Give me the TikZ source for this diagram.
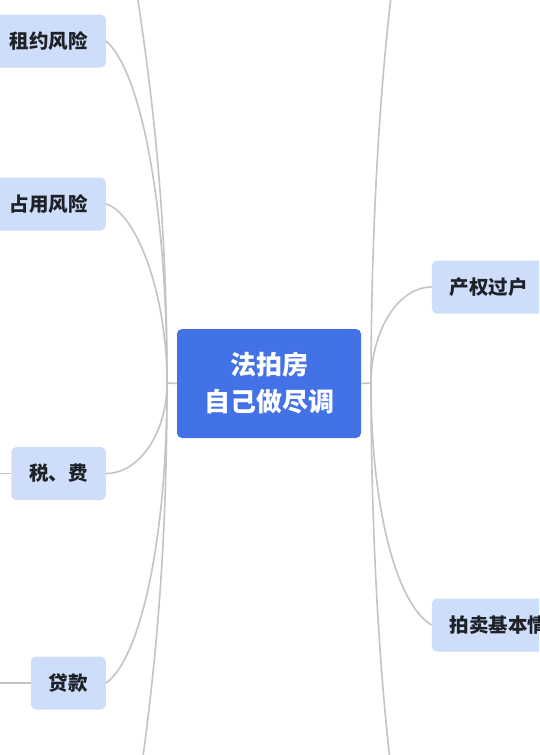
\documentclass[tikz,border=0pt]{standalone}
\usepackage{fontspec}
\newfontfamily\cjk{Noto Sans CJK SC}
\definecolor{rootblue}{HTML}{4272E6}
\definecolor{leafblue}{HTML}{CEDDF9}
\definecolor{linegray}{HTML}{C4C4C4}
\definecolor{textdark}{HTML}{1E2128}
\tikzset{
  rootbox/.style={fill=rootblue, rounded corners=5pt, minimum width=184pt, minimum height=109pt,
    text=white, font=\cjk\bfseries\fontsize{26}{37}\selectfont, align=center, inner sep=0pt},
  leafbox/.style={fill=leafblue, rounded corners=5pt, minimum height=53pt, inner xsep=18pt,
    inner ysep=0pt, text=textdark, font=\cjk\bfseries\fontsize{19.5}{23}\selectfont},
  link/.style={draw=linegray, line width=1.6pt}
}
\begin{document}
\begin{tikzpicture}[x=1pt,y=-1pt]
\useasboundingbox (0,0) rectangle (539,755);
\clip (0,0) rectangle (539,755);
\fill[white] (0,0) rectangle (539,755);
% nodes
\node[rootbox] (root) at (269,383.5) {\raisebox{-2pt}{法拍房}\\\raisebox{-2pt}{自己做尽调}};
\node[leafbox, anchor=east] (zy) at (106,41) {租约风险};
\node[leafbox, anchor=east] (zh) at (106,204) {占用风险};
\node[leafbox, anchor=east] (sf) at (106,473.5) {税、费};
\node[leafbox, anchor=east] (dk) at (106,683) {贷款};
\node[leafbox, anchor=west] (cq) at (431.7,287) {产权过户};
\node[leafbox, anchor=west] (pm) at (431.7,625) {拍卖基本情况};
% junction and free ends
\coordinate (cl) at (167,383);
\coordinate (cr) at (371,383);
\coordinate (tl) at (135,-20);
\coordinate (bl) at (139,786);
\coordinate (tr) at (393,-20);
\coordinate (br) at (393,786);
\coordinate (sfl) at (-10,473.5);
\coordinate (dkl) at (-10,683);
% connectors
\draw[link] (root.west) -- (cl);
\draw[link] (root.east) -- (cr);
\draw[link] (cl) .. controls (167,200) and (150,80) .. (tl);
\draw[link] (cl) .. controls (167,200) and (140,70) .. (zy.east);
\draw[link] (cl) .. controls (167,293.5) and (136.5,213) .. (zh.east);
\draw[link] (cl) .. controls (167,432.5) and (139.5,473.5) .. (sf.east);
\draw[link] (cl) .. controls (167,542) and (140,659) .. (dk.east);
\draw[link] (cl) .. controls (167,566) and (153,686) .. (bl);
\draw[link] (sf.west) -- (sfl);
\draw[link] (dk.west) -- (dkl);
\draw[link] (cr) .. controls (371,250) and (378,100) .. (tr);
\draw[link] (cr) .. controls (371,330.8) and (398,287) .. (cq.west);
\draw[link] (cr) .. controls (371,511) and (397.5,605.6) .. (pm.west);
\draw[link] (cr) .. controls (371,516) and (378,666) .. (br);
\end{tikzpicture}
\end{document}
